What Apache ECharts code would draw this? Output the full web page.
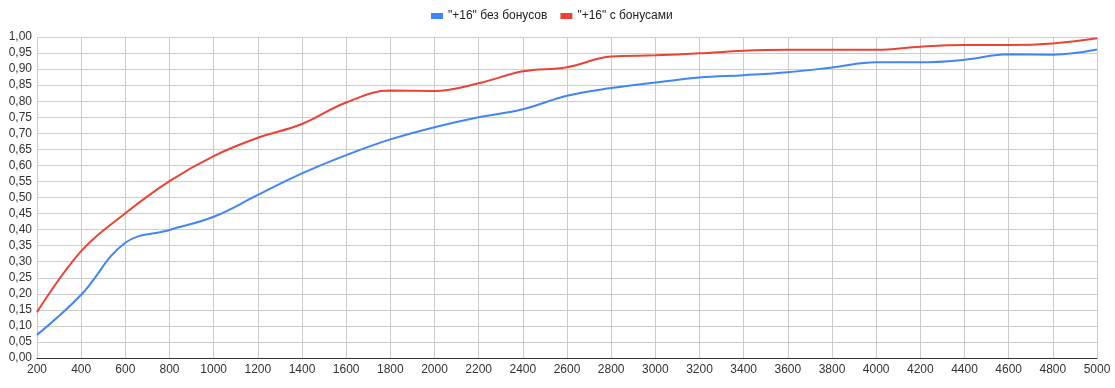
<!DOCTYPE html>
<html>
<head>
<meta charset="utf-8">
<script src="https://cdn.jsdelivr.net/npm/echarts@6/dist/echarts.min.js"></script>
<style>
html,body{margin:0;padding:0;background:#fff;}
#chart{width:1115px;height:388px;}
</style>
</head>
<body>
<div id="chart"></div>
<script>
var categories = ['200','400','600','800','1000','1200','1400','1600','1800','2000','2200','2400','2600','2800','3000','3200','3400','3600','3800','4000','4200','4400','4600','4800','5000'];
var seriesNames = ['"+16" без бонусов', '"+16" с бонусами'];
var noBonus = [0.072,0.197,0.359,0.399,0.44,0.508,0.575,0.632,0.681,0.719,0.75,0.775,0.817,0.841,0.858,0.874,0.881,0.89,0.905,0.921,0.921,0.929,0.946,0.945,0.961];
var withBonus = [0.143,0.333,0.451,0.551,0.629,0.686,0.729,0.796,0.833,0.832,0.856,0.893,0.906,0.939,0.943,0.949,0.957,0.96,0.96,0.96,0.97,0.975,0.975,0.98,0.996];

var chart = echarts.init(document.getElementById('chart'));
var font = 'Liberation Sans, Arial, sans-serif';
chart.setOption({
  animation: false,
  textStyle: {fontFamily: font},
  legend: {
    top: 5,
    left: 426,
    icon: 'rect',
    itemWidth: 12,
    itemHeight: 6,
    itemGap: 13,
    textStyle: {fontFamily: font, fontSize: 12, color: '#222'},
    data: seriesNames
  },
  grid: {left: 37, right: 18, top: 37, bottom: 30, containLabel: false},
  xAxis: {
    type: 'category',
    data: categories,
    boundaryGap: false,
    axisLine: {show: true, lineStyle: {color: '#333', width: 1}},
    axisTick: {show: false},
    axisLabel: {color: '#333', fontSize: 12, margin: 6, interval: 0, fontFamily: font},
    splitLine: {show: true, interval: 0, lineStyle: {color: '#cccccc', width: 1}}
  },
  yAxis: {
    type: 'value',
    min: 0,
    max: 1,
    interval: 0.05,
    axisLine: {show: false},
    axisTick: {show: false},
    axisLabel: {color: '#333', fontSize: 12, margin: 5, fontFamily: font,
      formatter: function(v){ return v.toFixed(2).replace('.', ','); }},
    splitLine: {show: true, lineStyle: {color: '#cccccc', width: 1}}
  },
  series: [
    {name: seriesNames[0], type: 'line', data: noBonus, smooth: 0.4, symbol: 'none',
     lineStyle: {color: '#4285F4', width: 2}, itemStyle: {color: '#4285F4'}},
    {name: seriesNames[1], type: 'line', data: withBonus, smooth: 0.4, symbol: 'none',
     lineStyle: {color: '#EA4335', width: 2}, itemStyle: {color: '#EA4335'}}
  ]
});
</script>
</body>
</html>
